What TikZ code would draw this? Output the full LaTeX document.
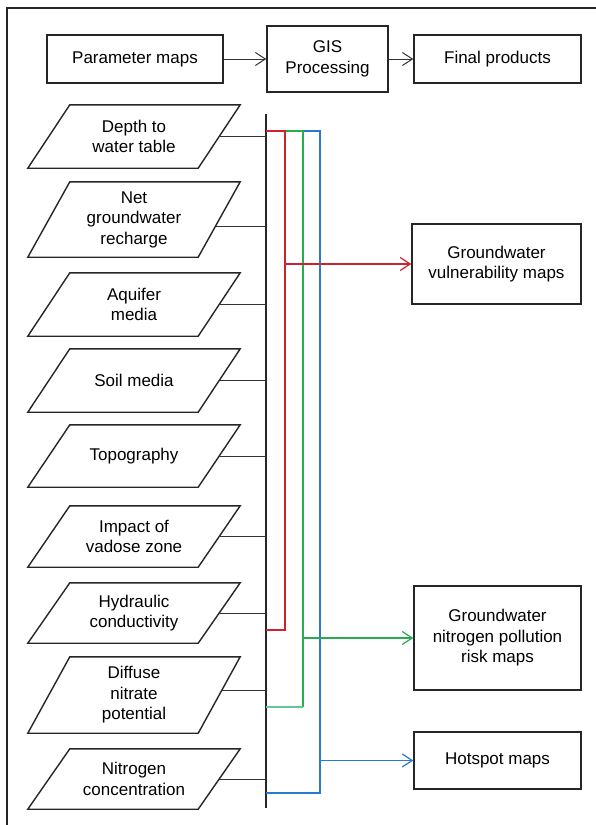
\documentclass[tikz,border=0pt]{standalone}
\usepackage{fontspec}
\setmainfont{Liberation Sans}
\usetikzlibrary{arrows.meta,calc}
\definecolor{redflow}{RGB}{205,35,45}
\definecolor{greenflow}{RGB}{40,172,80}
\definecolor{greenpale}{RGB}{100,200,150}
\definecolor{blueflow}{RGB}{40,122,205}

% parameter map: a parallelogram round a text node
\newcommand\parammap[4]{%
  \node[ptext, minimum height=#3] (#1) at (134,#2) {#4};
  \draw[pbox] (#1.south west) -- ([xshift=-42pt]#1.south east)
    -- (#1.north east) -- ([xshift=42pt]#1.north west) -- cycle;}

\begin{document}
\begin{tikzpicture}[x=1pt,y=-1pt,
  txt/.style={font=\fontsize{17}{20.5}\selectfont, align=center},
  box/.style={txt, draw=black!85, line width=1.4pt, inner sep=0pt},
  ptext/.style={txt, inner sep=0pt, minimum width=212pt},
  pbox/.style={draw=black!85, line width=1.4pt, line join=miter},
  link/.style={draw=black!80, line width=1pt},
  bar/.style={draw=black!85, line width=1.4pt},
  tip/.style={-{Straight Barb[length=10pt,width=13pt]}},
  redline/.style={draw=redflow, line width=1.2pt},
  greenline/.style={draw=greenflow, line width=1.2pt},
  paleline/.style={draw=greenpale, line width=1.2pt},
  blueline/.style={draw=blueflow, line width=1.2pt},
]
\useasboundingbox[fill=white] (0,0) rectangle (596,825);

% outer frame (left and top edges)
\draw[black!85, line width=1.4pt] (7,825) -- (7,8) -- (596,8);

% header row
\node[box, minimum width=176pt, minimum height=48pt] (param) at (135,59) {Parameter maps};
\node[box, minimum width=121pt, minimum height=66pt] (gis) at (327.5,59) {GIS\\Processing};
\node[box, minimum width=167pt, minimum height=48pt] (final) at (497.5,59) {Final products};
\draw[link, tip] (param) -- (gis);
\draw[link, tip] (gis) -- (final);

% input parameter maps
\parammap{depth}{136.5}{63pt}{Depth to\\water table}
\parammap{recharge}{219.5}{75pt}{Net\\groundwater\\recharge}
\parammap{aquifer}{304.5}{63pt}{Aquifer\\media}
\parammap{soil}{380.5}{63pt}{Soil media}
\parammap{topo}{456}{62pt}{Topography}
\parammap{vadose}{536.5}{61pt}{Impact of\\vadose zone}
\parammap{hydraulic}{613}{60pt}{Hydraulic\\conductivity}
\parammap{nitrate}{695}{76pt}{Diffuse\\nitrate\\potential}
\parammap{nconc}{779}{60pt}{Nitrogen\\concentration}

% output products
\node[box, minimum width=169pt, minimum height=80pt] (vuln) at (496.5,264) {Groundwater\\vulnerability maps};
\node[box, minimum width=167pt, minimum height=104pt] (risk) at (497.5,638) {Groundwater\\nitrogen pollution\\risk maps};
\node[box, minimum width=167pt, minimum height=57pt] (hot) at (497.5,760.5) {Hotspot maps};

% collecting bus
\coordinate (bustop) at (266,114);
\coordinate (busbot) at (266,808);
\draw[bar] (bustop) -- (busbot);

% links from each map to the bus
\foreach \m in {depth,aquifer,soil,topo,vadose,hydraulic,nconc}
  \draw[link] ([xshift=-21pt]\m.east) -- (\m.east -| bustop);
\draw[link] ([xshift=-24.6pt,yshift=-6.5pt]recharge.east) -- ([yshift=-6.5pt]recharge.east -| bustop);
\draw[link] ([xshift=-18.2pt,yshift=5pt]nitrate.east) -- ([yshift=5pt]nitrate.east -| bustop);

% coloured selection lines
\coordinate (rT) at (285,131);
\coordinate (rB) at (285,630);
\coordinate (gT) at (303,131);
\coordinate (gB) at (303,707);
\coordinate (bT) at (320,131);
\coordinate (bB) at (320,793);

\draw[blueline] (gT) -- (bT) -- (bB) -- (bustop |- bB);
\draw[greenline] (rT) -- (gT) -- (gB);
\draw[paleline] (gB) -- (bustop |- gB);
\draw[redline] (bustop |- rT) -- (rT) -- (rB) -- (bustop |- rB);

\draw[redline, tip] (rT |- vuln.west) -- (vuln.west);
\draw[greenline, tip] (gT |- risk.west) -- (risk.west);
\draw[blueline, tip] (bT |- hot.west) -- (hot.west);
\end{tikzpicture}
\end{document}
